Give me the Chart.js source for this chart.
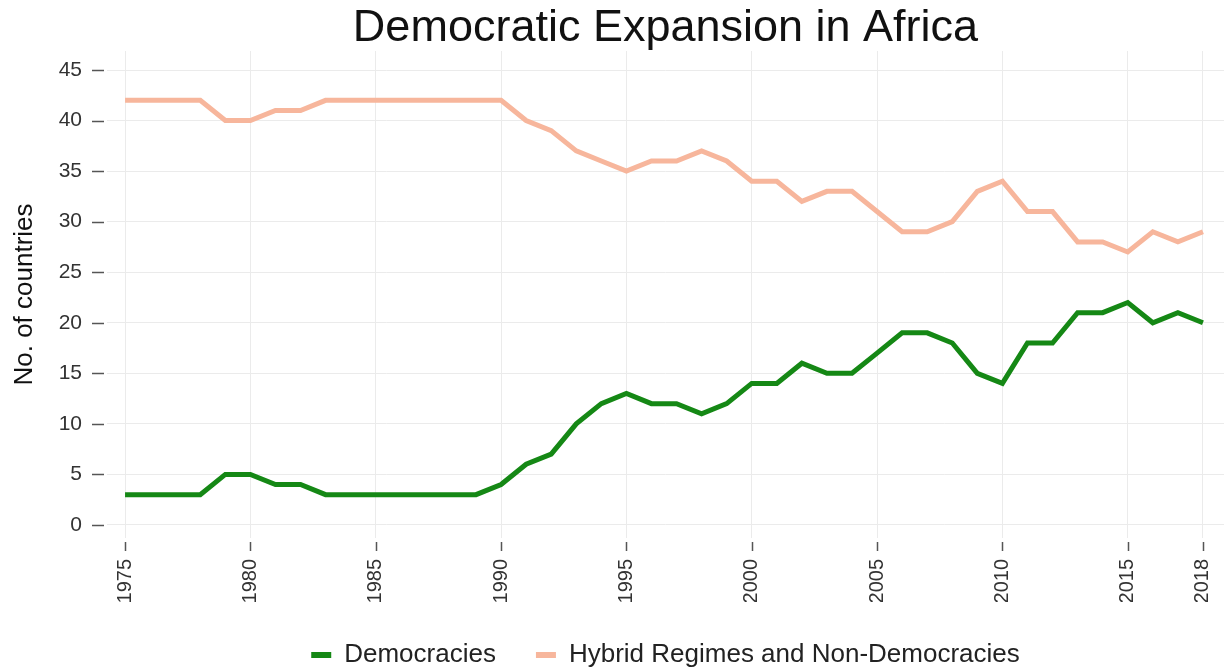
<!DOCTYPE html>
<html>
<head>
<meta charset="utf-8">
<script src="https://cdn.jsdelivr.net/npm/chart.js@4"></script>
<style>
  html, body { margin: 0; padding: 0; background: #fff; }
  #wrap { width: 1232px; height: 668px; }
</style>
</head>
<body>
<div id="wrap"><canvas id="myChart"></canvas></div>
<script>
// Chart data
const years = [1975, 1976, 1977, 1978, 1979, 1980, 1981, 1982, 1983, 1984,
               1985, 1986, 1987, 1988, 1989, 1990, 1991, 1992, 1993, 1994,
               1995, 1996, 1997, 1998, 1999, 2000, 2001, 2002, 2003, 2004,
               2005, 2006, 2007, 2008, 2009, 2010, 2011, 2012, 2013, 2014,
               2015, 2016, 2017, 2018];
const democracies = [3, 3, 3, 3, 5, 5, 4, 4, 3, 3,
                     3, 3, 3, 3, 3, 4, 6, 7, 10, 12,
                     13, 12, 12, 11, 12, 14, 14, 16, 15, 15,
                     17, 19, 19, 18, 15, 14, 18, 18, 21, 21,
                     22, 20, 21, 20];
const hybrid = [42, 42, 42, 42, 40, 40, 41, 41, 42, 42,
                42, 42, 42, 42, 42, 42, 40, 39, 37, 36,
                35, 36, 36, 37, 36, 34, 34, 32, 33, 33,
                31, 29, 29, 30, 33, 34, 31, 31, 28, 28,
                27, 29, 28, 29];
const xTicks = [1975, 1980, 1985, 1990, 1995, 2000, 2005, 2010, 2015, 2018];
const yTicks = [0, 5, 10, 15, 20, 25, 30, 35, 40, 45];

const textFont = 'Liberation Sans, Arial, sans-serif';

function toPoints(vals) {
    return years.map(function (yr, i) { return { x: yr, y: vals[i] }; });
}

// Tick dashes drawn a little away from the plot area
const tickDashes = {
    id: 'tickDashes',
    afterDraw: function (chart) {
        const c = chart.ctx;
        const area = chart.chartArea;
        const xs = chart.scales.x;
        const ys = chart.scales.y;
        c.save();
        c.strokeStyle = '#555';
        c.lineWidth = 1.5;
        c.beginPath();
        xTicks.forEach(function (t) {
            const px = Math.round(xs.getPixelForValue(t)) + 0.5;
            c.moveTo(px, area.bottom + 4);
            c.lineTo(px, area.bottom + 13);
        });
        yTicks.forEach(function (t) {
            const py = Math.round(ys.getPixelForValue(t)) + 0.5;
            c.moveTo(area.left - 15, py);
            c.lineTo(area.left - 3, py);
        });
        c.stroke();
        c.restore();
    }
};

const ctx = document.getElementById('myChart').getContext('2d');
const myChart = new Chart(ctx, {
    type: 'line',
    data: {
        datasets: [{
            label: 'Democracies',
            data: toPoints(democracies),
            borderColor: '#158815',
            backgroundColor: '#158815',
            borderWidth: 5,
            pointRadius: 0,
            tension: 0
        }, {
            label: 'Hybrid Regimes and Non-Democracies',
            data: toPoints(hybrid),
            borderColor: '#f7b69c',
            backgroundColor: '#f7b69c',
            borderWidth: 5,
            pointRadius: 0,
            tension: 0
        }]
    },
    options: {
        responsive: true,
        maintainAspectRatio: false,
        animation: false,
        layout: { padding: { left: 0, right: 8, top: 6, bottom: -10 } },
        plugins: {
            title: {
                display: true,
                fullSize: false,
                text: 'Democratic Expansion in Africa',
                color: '#111',
                font: { family: textFont, size: 45, weight: 'normal', lineHeight: 1.0 },
                padding: { top: 0, bottom: 0 }
            },
            legend: {
                position: 'bottom',
                fullSize: false,
                labels: {
                    color: '#222',
                    font: { family: textFont, size: 26 },
                    boxWidth: 20,
                    boxHeight: 6,
                    padding: 40,
                    // thin filled markers, no outline
                    generateLabels: function (chart) {
                        const items = Chart.defaults.plugins.legend.labels.generateLabels(chart);
                        items.forEach(function (it) { it.lineWidth = 0; });
                        return items;
                    }
                }
            },
            tooltip: { enabled: false }
        },
        scales: {
            x: {
                type: 'linear',
                min: 1974.28,
                max: 2018.84,
                afterBuildTicks: function (axis) {
                    axis.ticks = xTicks.map(function (v) { return { value: v }; });
                },
                afterFit: function (axis) {
                    axis.height = 64;
                    axis.paddingLeft = 0;
                    axis.paddingRight = 0;
                },
                grid: { color: '#ebebeb', lineWidth: 1, drawTicks: false },
                border: { display: false },
                ticks: {
                    autoSkip: false,
                    minRotation: 90,
                    maxRotation: 90,
                    padding: 21,
                    color: '#333',
                    font: { family: textFont, size: 20 },
                    callback: function (v) { return String(v); }
                }
            },
            y: {
                min: -1.29,
                max: 46.88,
                afterBuildTicks: function (axis) {
                    axis.ticks = yTicks.map(function (v) { return { value: v }; });
                },
                afterFit: function (axis) {
                    axis.width = 107;
                    axis.paddingTop = 0;
                    axis.paddingBottom = 0;
                },
                grid: { color: '#ebebeb', lineWidth: 1, drawTicks: false },
                border: { display: false },
                ticks: {
                    padding: 25,
                    color: '#333',
                    font: { family: textFont, size: 21 }
                },
                title: {
                    display: true,
                    text: 'No. of countries',
                    color: '#111',
                    font: { family: textFont, size: 26 },
                    padding: { top: 9, bottom: 0 }
                }
            }
        }
    },
    plugins: [tickDashes]
});
</script>
</body>
</html>
